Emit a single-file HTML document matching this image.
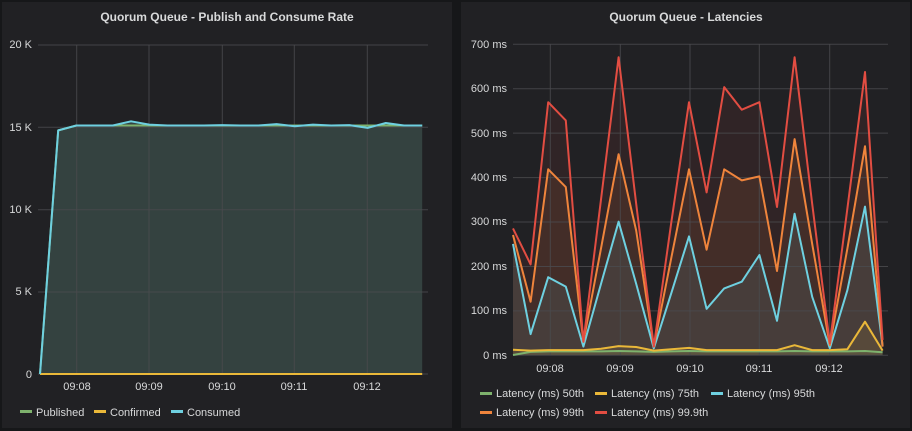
<!DOCTYPE html>
<html><head><meta charset="utf-8"><style>
html,body{margin:0;padding:0;background:#161719;width:912px;height:431px;overflow:hidden}
svg{display:block}
text{font-family:"Liberation Sans",sans-serif;fill:#d8d9da}
</style></head><body>
<svg id="s" width="912" height="431" xmlns="http://www.w3.org/2000/svg">
<rect x="2" y="2" width="450" height="426" fill="#212124"/>
<rect x="461" y="2" width="449" height="426" fill="#212124"/>
<text x="227" y="21" font-size="12" font-weight="bold" text-anchor="middle">Quorum Queue - Publish and Consume Rate</text>
<text x="686" y="21" font-size="12" font-weight="bold" text-anchor="middle">Quorum Queue - Latencies</text>
<g id="g"></g>
<g font-size="11">
<text x="32" y="48" text-anchor="end">20 K</text>
<text x="32" y="131" text-anchor="end">15 K</text>
<text x="32" y="213" text-anchor="end">10 K</text>
<text x="32" y="295" text-anchor="end">5 K</text>
<text x="32" y="378" text-anchor="end">0</text>
<text x="77" y="390" text-anchor="middle">09:08</text>
<text x="149" y="390" text-anchor="middle">09:09</text>
<text x="222" y="390" text-anchor="middle">09:10</text>
<text x="294" y="390" text-anchor="middle">09:11</text>
<text x="367" y="390" text-anchor="middle">09:12</text>
<text x="507" y="48" text-anchor="end">700 ms</text>
<text x="507" y="92" text-anchor="end">600 ms</text>
<text x="507" y="137" text-anchor="end">500 ms</text>
<text x="507" y="181" text-anchor="end">400 ms</text>
<text x="507" y="225" text-anchor="end">300 ms</text>
<text x="507" y="270" text-anchor="end">200 ms</text>
<text x="507" y="314" text-anchor="end">100 ms</text>
<text x="507" y="359" text-anchor="end">0 ms</text>
<text x="550" y="372" text-anchor="middle">09:08</text>
<text x="620" y="372" text-anchor="middle">09:09</text>
<text x="690" y="372" text-anchor="middle">09:10</text>
<text x="759" y="372" text-anchor="middle">09:11</text>
<text x="829" y="372" text-anchor="middle">09:12</text>
</g>
<g font-size="11">
<rect x="20" y="410" width="12" height="3" fill="#7eb26d"/><text x="36" y="416">Published</text>
<rect x="94" y="410" width="12" height="3" fill="#eab839"/><text x="110" y="416">Confirmed</text>
<rect x="171" y="410" width="12" height="3" fill="#6ed0e0"/><text x="187" y="416">Consumed</text>
<rect x="480" y="392" width="12" height="3" fill="#7eb26d"/><text x="496" y="397">Latency (ms) 50th</text>
<rect x="595" y="392" width="12" height="3" fill="#eab839"/><text x="611" y="397">Latency (ms) 75th</text>
<rect x="711" y="392" width="12" height="3" fill="#6ed0e0"/><text x="727" y="397">Latency (ms) 95th</text>
<rect x="480" y="411" width="12" height="3" fill="#ef843c"/><text x="496" y="416">Latency (ms) 99th</text>
<rect x="595" y="411" width="12" height="3" fill="#e24d42"/><text x="611" y="416">Latency (ms) 99.9th</text>
</g>
</svg>
<script>
var g=document.getElementById('g'),h='';
function line(x1,y1,x2,y2){h+='<line x1="'+x1+'" y1="'+y1+'" x2="'+x2+'" y2="'+y2+'" stroke="#4a4a4d" stroke-opacity="0.85" stroke-width="1"/>';}
function path(xs,ys,col,op,w){var d='';for(var i=0;i<xs.length;i++)d+=(i?'L':'M')+xs[i].toFixed(1)+','+ys[i].toFixed(1);
 var r='';if(op>0)r+='<path d="'+d+'L'+xs[xs.length-1].toFixed(1)+','+ys.base+'L'+xs[0].toFixed(1)+','+ys.base+'Z" fill="'+col+'" fill-opacity="'+op+'"/>';
 return {area:r,line:'<path d="'+d+'" fill="none" stroke="'+col+'" stroke-width="2" stroke-linejoin="round"/>'};}
var cons=[0,14.8,15.1,15.1,15.1,15.35,15.15,15.1,15.1,15.1,15.12,15.1,15.1,15.18,15.05,15.15,15.1,15.12,14.95,15.25,15.1,15.1];
var pub=cons.map(function(v,i){return i<2?v:15.1});
var xl=cons.map(function(v,i){return 40+i*18.2});
function yl(a){var r=a.map(function(v){return 374-v*16.46});r.base=374;return r}
var P=path(xl,yl(pub),'#7eb26d',0,2),C=path(xl,yl(cons),'#344240',1,2),C2=path(xl,yl(cons),'#6ed0e0',0,2),F=path(xl,yl(cons.map(function(){return 0})),'#eab839',0,2);
var s999=[285,204,569,528,30,350,670,340,19,300,569,366,603,552,569,333,670,340,26,330,637,34];
var s99=[270,120,418,378,30,240,452,280,19,220,418,237,418,393,402,189,486,250,22,240,470,19];
var s95=[250,47,175,154,19,160,300,160,15,140,267,104,150,165,225,77,318,131,15,146,334,20];
var s75=[12,10,11,11,11,14,20,18,10,13,16,11,11,11,11,11,22,11,11,13,75,10];
var s50=[0,7,8,8,8,8,9,8,7,8,9,8,8,8,8,8,9,8,8,8,9,6];
var xr=s999.map(function(v,i){return 513+i*17.6});
function yr(a){var r=a.map(function(v){return 355-v*0.4443});r.base=355;return r}
var L=[[s999,'#e24d42',0.08],[s99,'#ef843c',0.1],[s95,'#6ed0e0',0.1],[s75,'#eab839',0.1],[s50,'#7eb26d',0.1]].map(function(a){return path(xr,yr(a[0]),a[1],a[2],2)});
h+=C.area;
L.forEach(function(p){h+=p.area});
[45,127.3,209.7,292,374].forEach(function(y){line(38,y,428,y)});
[76.7,149,222.3,294.3,367.3].forEach(function(x){line(x,45,x,374)});
for(var k=0;k<8;k++){var y=44.3+k*44.43;line(513,y,888,y)}
[550.3,620.3,690,759.3,829.7].forEach(function(x){line(x,44,x,355)});
h+=P.line+F.line+C2.line;
L.slice().reverse().forEach(function(p){h+=p.line});
g.innerHTML=h;
</script>
</body></html>
